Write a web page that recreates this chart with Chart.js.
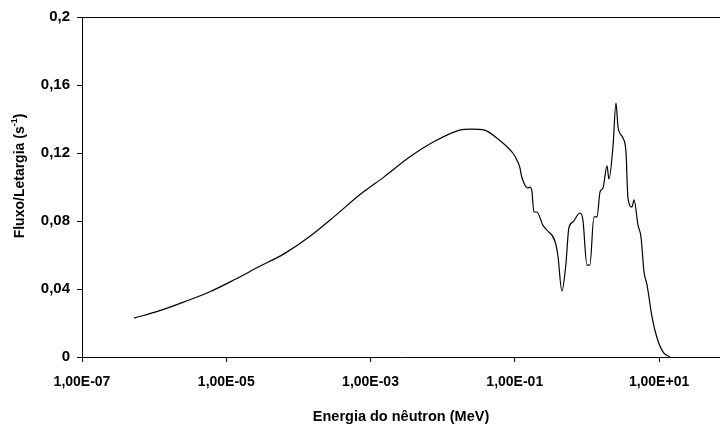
<!DOCTYPE html>
<html lang="pt">
<head>
<meta charset="utf-8">
<title>Fluxo por letargia</title>
<script src="https://cdn.jsdelivr.net/npm/chart.js@4/dist/chart.umd.min.js"></script>
<style>
  html, body { margin: 0; padding: 0; background: #fff; }
  #grafico { display: block; }
</style>
</head>
<body>
<canvas id="grafico" width="720" height="427"></canvas>
<script>
// energia do nêutron (MeV)
const energia = [
  5.27e-7, 1.17e-6, 2.61e-6, 5.81e-6, 1.29e-5, 2.87e-5, 6.39e-5, 1.42e-4,
  3.16e-4, 7.03e-4, 1.56e-3, 3.48e-3, 7.74e-3, 1.72e-2, 2.53e-2, 3.83e-2,
  5.62e-2, 9.38e-2,
  0.107, 0.117, 0.125, 0.152, 0.161, 0.172, 0.184, 0.202, 0.245, 0.278,
  0.36, 0.395, 0.45, 0.51, 0.562, 0.64, 0.80, 0.88, 1.0, 1.10, 1.25, 1.38,
  1.52, 1.67, 1.90, 2.02, 2.30, 2.53, 2.70, 3.16, 3.48, 3.71, 4.22, 4.50,
  5.11, 5.62, 6.19, 6.81, 8.0, 9.38, 11.4, 14.2
];
// fluxo por letargia (s^-1)
const fluxo = [
  0.0229, 0.0271, 0.0324, 0.0382, 0.0454, 0.0532, 0.0608, 0.0707,
  0.0827, 0.0953, 0.1061, 0.1176, 0.1269, 0.1335, 0.1341, 0.1335,
  0.1288, 0.1200,
  0.1159, 0.1118, 0.1059, 0.0994, 0.1000, 0.0982, 0.0853, 0.0853, 0.0776, 0.0747,
  0.0682, 0.0600, 0.0388, 0.0541, 0.0759, 0.0794, 0.0847, 0.0806, 0.0541, 0.0541, 0.0824, 0.0824,
  0.0971, 0.0994, 0.1124, 0.1047, 0.1241, 0.1494, 0.1353, 0.1288, 0.1206, 0.0935, 0.0882, 0.0924,
  0.0776, 0.0706, 0.0500, 0.0424, 0.0235, 0.0112, 0.0029, 0
];

const ticksEnergia = [1e-7, 1e-5, 1e-3, 1e-1, 1e1];
const rotulosEnergia = ['1,00E-07', '1,00E-05', '1,00E-03', '1,00E-01', '1,00E+01'];
const ticksFluxo = [0, 0.04, 0.08, 0.12, 0.16, 0.2];
const rotulosFluxo = ['0', '0,04', '0,08', '0,12', '0,16', '0,2'];

const FONTE = '"Liberation Sans", Arial, sans-serif';

// título do eixo y (com expoente) e borda superior
const tituloY = {
  id: 'tituloY',
  afterDraw(chart) {
    const ctx = chart.ctx;
    const a = chart.chartArea;
    ctx.save();
    ctx.strokeStyle = '#000';
    ctx.lineWidth = 1;
    ctx.beginPath();
    ctx.moveTo(a.left, a.top + 0.5);
    ctx.lineTo(a.right, a.top + 0.5);
    ctx.stroke();

    const base = 'bold 14px ' + FONTE;
    const sup = 'bold 9px ' + FONTE;
    ctx.font = base;
    const w1 = ctx.measureText('Fluxo/Letargia (s').width;
    const w3 = ctx.measureText(')').width;
    ctx.font = sup;
    const w2 = ctx.measureText('-1').width;
    const total = w1 + w2 + w3;

    ctx.translate(20, 176);
    ctx.rotate(-Math.PI / 2);
    ctx.fillStyle = '#000';
    ctx.textBaseline = 'middle';
    let x = -total / 2;
    ctx.font = base;
    ctx.fillText('Fluxo/Letargia (s', x, 0);
    x += w1;
    ctx.font = sup;
    ctx.fillText('-1', x, -5);
    x += w2;
    ctx.font = base;
    ctx.fillText(')', x, 0);
    ctx.restore();
  }
};

new Chart(document.getElementById('grafico'), {
  type: 'line',
  data: {
    datasets: [{
      data: energia.map((e, i) => ({ x: e, y: fluxo[i] })),
      borderColor: '#000',
      borderWidth: 1.2,
      pointRadius: 0,
      cubicInterpolationMode: 'monotone',
      fill: false
    }]
  },
  options: {
    responsive: false,
    animation: false,
    devicePixelRatio: 1,
    layout: { padding: { top: 17, right: 0, left: 0, bottom: 0 } },
    plugins: { legend: { display: false }, tooltip: { enabled: false } },
    scales: {
      x: {
        type: 'logarithmic',
        min: 1e-7,
        max: 70,
        afterBuildTicks: s => { s.ticks = ticksEnergia.map(v => ({ value: v })); },
        afterFit: s => { s.height = 70; },
        grid: { drawOnChartArea: false, drawTicks: true, tickLength: 5, color: '#000' },
        border: { color: '#000', width: 1 },
        ticks: {
          autoSkip: false,
          maxRotation: 0,
          padding: 12,
          color: '#000',
          font: { family: FONTE, size: 14, weight: 'bold' },
          callback: (v, i) => rotulosEnergia[i]
        },
        title: {
          display: true,
          text: 'Energia do nêutron (MeV)',
          color: '#000',
          font: { family: FONTE, size: 14.5, weight: 'bold' },
          padding: { top: 0, bottom: 1 }
        }
      },
      y: {
        min: 0,
        max: 0.2,
        afterBuildTicks: s => { s.ticks = ticksFluxo.map(v => ({ value: v })); },
        afterFit: s => { s.width = 82; },
        grid: { drawOnChartArea: false, drawTicks: true, tickLength: 5, color: '#000' },
        border: { color: '#000', width: 1 },
        ticks: {
          padding: 7,
          color: '#000',
          font: { family: FONTE, size: 15, weight: 'bold' },
          callback: (v, i) => rotulosFluxo[i]
        }
      }
    }
  },
  plugins: [tituloY]
});
</script>
</body>
</html>
